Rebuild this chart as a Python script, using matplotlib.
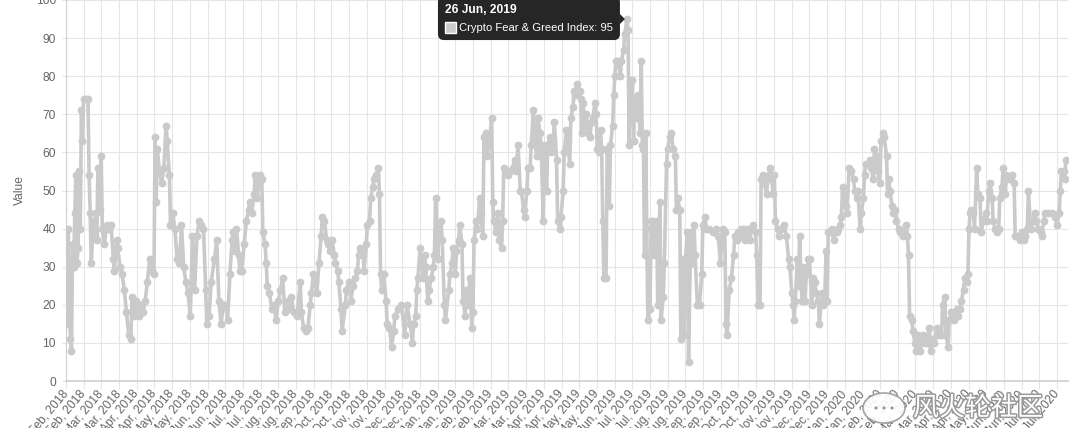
import matplotlib
matplotlib.use("Agg")
import matplotlib.pyplot as plt
import matplotlib.patheffects as pe
from matplotlib.patches import FancyBboxPatch, Polygon, Rectangle, Ellipse, Circle
from matplotlib.transforms import IdentityTransform

plt.rcParams['font.family'] = ['Liberation Sans', 'DejaVu Sans']

# x = day position since 1 Feb 2018 (category axis), y = index value
day = [
    0, 1, 2, 4, 5, 6, 7, 8, 9, 10,
    11, 12, 13, 14, 15, 16, 18, 20, 21, 22,
    23, 25, 26, 27, 28, 29, 31, 32, 33, 35,
    37, 39, 41, 43, 44, 46, 47, 49, 51, 53,
    55, 57, 59, 60, 62, 64, 66, 68, 70, 72,
    74, 76, 78, 80, 81, 82, 83, 85, 87, 89,
    91, 92, 94, 95, 97, 99, 101, 103, 105, 107,
    109, 111, 113, 115, 117, 119, 121, 123, 125, 127,
    128, 130, 132, 135, 137, 139, 141, 143, 145, 147,
    149, 151,
    152, 154, 155, 157, 158, 160, 162, 164, 166, 167,
    169, 171, 172, 174, 176, 178, 179, 181, 182, 183,
    185, 187, 189, 191, 193, 195, 197, 199, 202, 204,
    205, 207, 210, 213, 214, 216, 218, 220, 222, 223,
    225, 226, 228, 230, 232, 233, 235, 237, 238, 240,
    242, 244, 245, 247, 248, 250, 251, 254, 255, 257,
    259, 261, 263, 265, 266, 267, 270, 271, 273, 274,
    276, 277, 279, 280, 282, 284, 285, 286, 287, 289,
    291, 292, 294, 296, 298, 299, 302,
    305, 308, 310, 313, 315, 316, 318, 319, 320, 322,
    323, 325, 326, 327, 329, 330, 332, 334, 335, 336,
    338, 339, 341, 342, 344, 345, 348, 349, 351, 352,
    354, 355, 357, 358, 360, 361, 363, 364, 366, 367,
    369, 370, 371, 373, 374, 376, 377, 379, 380, 382,
    383, 385, 387, 388, 389, 391, 393, 394, 396, 397,
    398, 400, 402, 404, 406, 408, 409, 411, 413, 414,
    416, 417, 419, 420, 422, 423, 425, 426, 428, 429,
    431, 432, 434, 435, 437, 438, 440, 441, 443, 444,
    446, 447, 449, 450, 452, 453, 455, 456, 458, 459,
    461, 462,
    463, 465, 467, 468, 469, 470, 472, 473, 475, 476,
    478, 479, 481, 482, 483, 485, 486, 487, 488, 489,
    491, 492, 493, 494, 495, 497, 498, 499, 500, 502,
    504, 505, 507, 508, 510, 511, 512, 513, 515, 516,
    517, 519, 520, 522, 523, 524, 525, 526, 527, 528,
    529, 531, 532, 534, 535, 537, 538, 540, 541, 543,
    544, 546, 547, 549, 550, 552, 554, 555, 556, 558,
    559, 560, 562, 563, 565, 566, 568, 569, 571, 572,
    574, 576, 578, 579, 581, 582, 585, 588, 591, 593,
    595, 597, 599, 600, 601, 603, 605, 607, 608, 610,
    611, 613, 614, 616,
    617, 619, 620, 622, 623, 625, 627, 628, 629, 631,
    632, 634, 635, 637, 638, 640, 641, 643, 644, 645,
    647, 648, 650, 653, 655, 657, 658, 660, 661, 662,
    663, 665, 666, 667, 669, 670, 672, 673, 675, 676,
    678, 679, 681, 682, 684, 685, 687, 688, 690, 691,
    692, 693, 694, 696, 698, 699, 701, 702, 704, 705,
    706, 707, 709, 710, 712, 714, 716, 717, 719, 720,
    722, 723, 725, 726, 727, 729, 731, 732, 734, 735,
    737, 738, 740, 741, 743, 744, 746, 747, 748, 749,
    751, 752, 754, 755, 757, 758, 761, 764, 765, 766,
    767, 769, 770, 772,
    773, 775, 776, 778, 779, 782, 783, 785, 786, 788,
    789, 792, 794, 796, 797, 799, 800, 802, 803, 805,
    807, 808, 810, 811, 813, 814, 816, 817, 819, 820,
    821, 822, 823, 825, 826, 828, 829, 831, 832, 834,
    836, 837, 839, 840, 842, 843, 845, 846, 848, 849,
    851, 852, 854, 855, 857, 860, 862, 863, 865, 867,
    869, 871, 872, 874, 875, 877, 879, 881, 882, 884,
    886, 887, 889, 890, 893, 896, 899, 901, 903, 904,
    905, 907, 908, 909,
]
fng = [
    30, 15, 40, 11, 8, 36, 30, 44, 54, 31,
    35, 55, 40, 71, 63, 74, 74, 74, 54, 44,
    31, 42, 38, 44, 37, 56, 45, 59, 40, 36,
    41, 40, 41, 32, 29, 37, 35, 30, 28, 24,
    18, 12, 11, 22, 17, 21, 17, 20, 18, 21,
    26, 32, 29, 28, 64, 47, 61, 55, 52, 56,
    67, 63, 54, 41, 44, 40, 32, 31, 41, 30,
    26, 23, 17, 38, 24, 38, 42, 41, 40, 24,
    15, 17, 26, 32, 37, 21, 15, 20, 20, 16,
    28, 37,
    39, 34, 40, 33, 29, 29, 36, 42, 45, 47,
    44, 49, 54, 48, 54, 53, 39, 36, 31, 25,
    23, 19, 20, 16, 21, 24, 27, 18, 21, 19,
    22, 18, 17, 26, 18, 14, 13, 14, 20, 23,
    28, 26, 23, 31, 38, 43, 42, 37, 36, 34,
    37, 33, 31, 29, 26, 19, 13, 20, 24, 26,
    21, 25, 27, 29, 33, 35, 34, 29, 36, 41,
    42, 48, 51, 53, 54, 56, 49, 28, 24, 28,
    21, 15, 14, 9, 13, 17, 19,
    20, 12, 20, 15, 10, 15, 17, 24, 27, 35,
    32, 27, 33, 30, 21, 24, 27, 30, 33, 48,
    32, 39, 42, 37, 20, 16, 24, 28, 31, 35,
    28, 34, 37, 41, 36, 21, 17, 24, 20, 27,
    14, 18, 37, 42, 40, 48, 44, 38, 64, 65,
    59, 63, 69, 47, 42, 39, 44, 37, 35, 42,
    56, 55, 54, 55, 56, 58, 55, 62, 50, 50,
    45, 43, 50, 56, 56, 62, 71, 63, 59, 69,
    65, 61, 42, 62, 50, 62, 64, 60, 63, 68,
    58, 42, 40, 43, 50, 60, 66, 63, 57, 69,
    72, 76,
    75, 78, 76, 74, 65, 73, 67, 70, 65, 64,
    68, 69, 73, 70, 61, 60, 66, 61, 42, 27,
    27, 61, 60, 46, 62, 67, 75, 80, 84, 84,
    80, 84, 87, 91, 95, 92, 62, 78, 79, 63,
    74, 69, 75, 65, 84, 62, 61, 33, 65, 40,
    16, 19, 42, 42, 33, 42, 20, 47, 16, 22,
    31, 57, 61, 64, 65, 61, 59, 45, 48, 45,
    11, 32, 12, 31, 39, 5, 39, 31, 41, 33,
    20, 20, 28, 41, 43, 40, 40, 39, 40, 38,
    31, 40, 39, 15, 12, 24, 27, 33, 38, 37,
    39, 38, 40, 40,
    37, 39, 40, 37, 40, 41, 39, 33, 20, 20,
    53, 54, 52, 49, 53, 56, 54, 49, 54, 42,
    40, 38, 40, 41, 38, 32, 30, 23, 20, 16,
    21, 32, 25, 38, 21, 30, 21, 28, 32, 32,
    20, 27, 26, 23, 21, 15, 23, 20, 23, 34,
    21, 39, 39, 40, 37, 39, 39, 40, 41, 43,
    51, 49, 46, 44, 56, 55, 53, 50, 48, 50,
    40, 44, 48, 54, 57, 57, 58, 56, 53, 61,
    59, 55, 52, 63, 65, 64, 59, 49, 53, 50,
    46, 44, 45, 42, 40, 39, 38, 41, 38, 33,
    17, 16, 13, 10,
    8, 12, 8, 10, 12, 10, 11, 14, 8, 11,
    10, 14, 12, 12, 20, 22, 12, 9, 16, 18,
    16, 18, 19, 17, 19, 21, 24, 27, 26, 28,
    40, 44, 45, 44, 40, 56, 49, 48, 39, 42,
    44, 42, 50, 52, 48, 42, 40, 39, 40, 48,
    51, 56, 49, 54, 53, 54, 52, 38, 38, 37,
    39, 37, 38, 40, 50, 40, 42, 44, 42, 40,
    39, 38, 42, 44, 44, 44, 43, 41, 44, 50,
    55, 55, 53, 58,
]
assert len(day) == len(fng)

months_2018 = ["Feb", "Feb", "Mar", "Mar", "Apr", "Apr", "May", "May", "Jun", "Jun", "Jul",
               "Jul", "Aug", "Aug", "Sep", "Oct", "Oct", "Nov", "Nov", "Dec", "Dec"]
months_2019 = ["Jan", "Jan", "Feb", "Feb", "Mar", "Mar", "Apr", "Apr", "May", "May", "Jun", "Jul",
               "Jul", "Aug", "Aug", "Sep", "Sep", "Oct", "Oct", "Nov", "Nov", "Dec", "Dec"]
months_2020 = ["Jan", "Jan", "Feb", "Feb", "Mar", "Mar", "Apr", "Apr", "May", "Jun", "Jun", "Jul", "Jul"]
tick_labels = ([f"{m}, 2018" for m in months_2018] + [f"{m}, 2019" for m in months_2019]
               + [f"{m}, 2020" for m in months_2020])

hover_day = 510
hover_value = 95
hover_title = "26 Jun, 2019"
series_name = "Crypto Fear & Greed Index"
watermark = "风火轮社区"

line_col = '#cacaca'
text_col = '#666666'
grid_col = '#e6e6e6'
px = 100 / 72  # pixels per point at dpi 100

fig = plt.figure(figsize=(10.8, 4.28), dpi=100)
ax = fig.add_axes([66 / 1080, 47 / 428, 1002 / 1080, 381 / 428])

ax.plot(day, fng, color=line_col, lw=2.6, marker='o', ms=4.6,
        mfc=line_col, mec=line_col, zorder=3)

tick_step = 16.09
ax.set_xticks([i * tick_step for i in range(len(tick_labels))])
ax.set_xticklabels(tick_labels)
ax.set_xlim(0, 911)
ax.set_ylim(0, 100)
ax.set_yticks(range(0, 101, 10))

ax.grid(True, color=grid_col, lw=0.8)
ax.set_axisbelow(True)
for s in ('top', 'right'):
    ax.spines[s].set_visible(False)
ax.spines['left'].set_color('#cfcfcf')
ax.spines['bottom'].set_color('#cfcfcf')
ax.spines['bottom'].set_linewidth(1.2)

ax.tick_params(axis='x', length=8 / px, color=grid_col, pad=3 / px,
               labelsize=12 / px, labelcolor=text_col)
ax.tick_params(axis='y', length=4 / px, color=grid_col, pad=6 / px,
               labelsize=12 / px, labelcolor=text_col)
for lab in ax.get_xticklabels():
    lab.set_rotation(50)
    lab.set_ha('right')
    lab.set_va('center')
    lab.set_rotation_mode('anchor')

fig.text(20 / 1080, 1 - 190 / 428, 'Value', rotation=90, ha='center', va='center',
         color=text_col, fontsize=12 / px)

# tooltip
hx, hy = ax.transData.transform((hover_day, hover_value))
ident = IdentityTransform()
right = hx - 7
left = right - 182
box = FancyBboxPatch((left, hy - 21), right - left, 44,
                     boxstyle='round,pad=0,rounding_size=6',
                     facecolor='#262626', edgecolor='none', transform=ident, zorder=10)
fig.add_artist(box)
caret = Polygon([[right, hy - 5], [right + 5, hy], [right, hy + 5]], closed=True,
                facecolor='#262626', edgecolor='none', transform=ident, zorder=10)
fig.add_artist(caret)
fig.text(left + 7, hy + 9, hover_title, transform=ident, color='white',
         fontsize=12 / px, fontweight='bold', ha='left', va='center', zorder=11)
sq = Rectangle((left + 7, hy - 14), 11, 11, facecolor='#cccccc', edgecolor='white',
               lw=1, transform=ident, zorder=11)
fig.add_artist(sq)
fig.text(left + 21, hy - 8.5, f"{series_name}: {hover_value}", transform=ident,
         color='white', fontsize=11.3 / px, ha='left', va='center', zorder=11)

# watermark
logo = Ellipse((884, 20), 42, 30, facecolor='white', edgecolor='#9a9a9a', lw=1.2,
               transform=ident, zorder=12, alpha=0.9)
fig.add_artist(logo)
for dx in (-8, 0, 8):
    fig.add_artist(Circle((884 + dx, 20), 1.6, facecolor='#9a9a9a', edgecolor='none',
                          transform=ident, zorder=13))
fig.text(978, 20, watermark, transform=ident, family=['Noto Sans CJK SC', 'DejaVu Sans'],
         fontsize=26 / px, color='white', ha='center', va='center', zorder=12,
         path_effects=[pe.Stroke(linewidth=2.2, foreground='#9a9a9a'), pe.Normal()])

fig.savefig('out.png', dpi=100)
